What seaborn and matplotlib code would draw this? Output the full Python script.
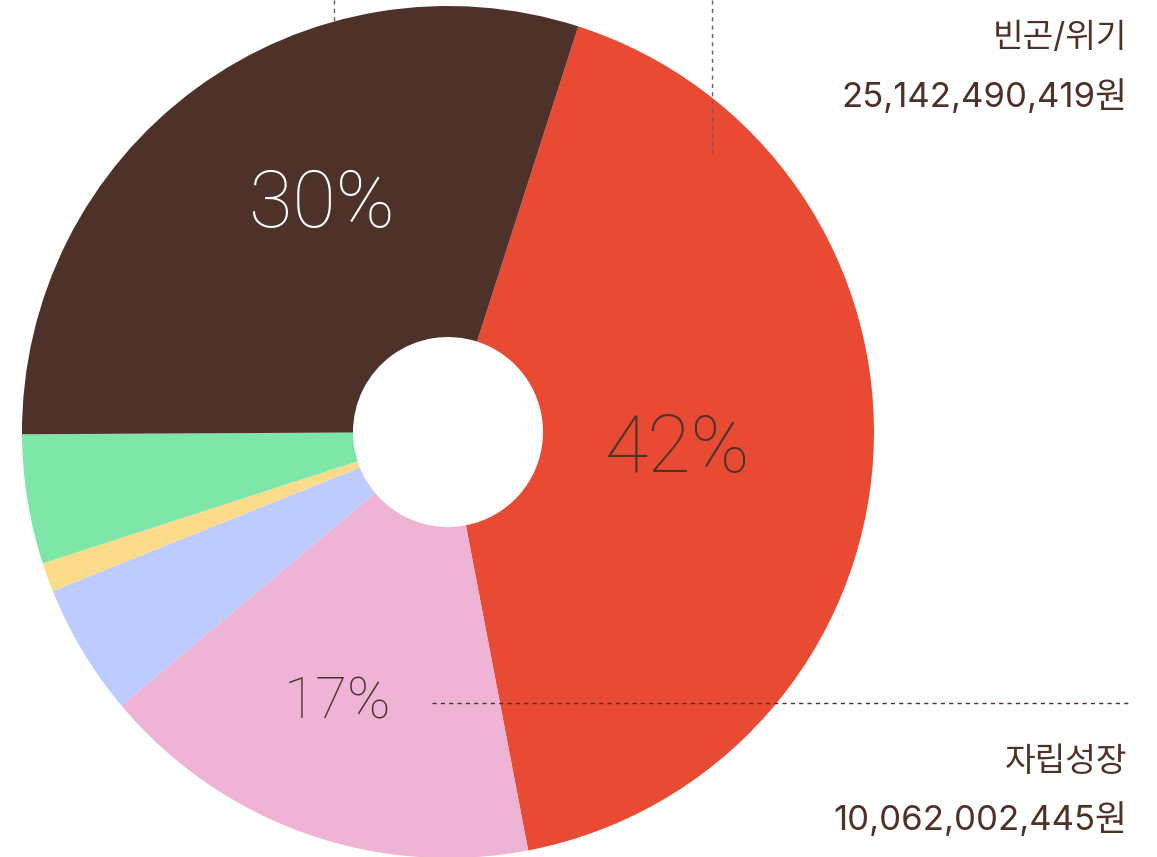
import matplotlib
matplotlib.use("Agg")
import matplotlib.pyplot as plt
import seaborn as sns

# shares (percent)
categories = ["빈곤/위기", "자립성장", "blue", "yellow", "green", "brown"]
shares = [42.0, 16.9, 5.0, 1.1, 4.9, 30.0]
colors = ["#e94a33", "#efb3d6", "#bdcbff", "#fcdc8b", "#7de6a8", "#4e3229"]
pct_labels = ["42%", "17%", "", "", "", "30%"]

label_top = "빈곤/위기"
amount_top = "25,142,490,419원"
label_bottom = "자립성장"
amount_bottom = "10,062,002,445원"

sns.set_style("white")
plt.rcParams['font.family'] = ['Inter', 'Noto Sans CJK KR', 'DejaVu Sans']

W, H = 1157, 857
fig = plt.figure(figsize=(W / 100, H / 100), dpi=100)
ax = fig.add_axes([0, 0, 1, 1])

cx, cy, R = 448, H - 432, 426
hole = 95
palette = sns.color_palette(colors)

line_col = "#7a5a50"
dash = (0, (3, 3))

# dashed leader hidden behind the brown wedge
ax.plot([334, 334], [H, H - 40], color=line_col, lw=1, ls=dash, zorder=0)

ax.pie(shares, colors=palette, startangle=72.2, counterclock=False,
       center=(cx, cy), radius=R,
       wedgeprops=dict(width=R - hole, linewidth=0), frame=True)

# leader lines drawn over the pie
ax.plot([712, 712], [H, H - 153], color=line_col, lw=1, ls=dash, zorder=5)
ax.plot([432, 1130], [H - 703, H - 703], color="#4e3229", lw=1, ls=dash, zorder=5)

pct_font = dict(family=['Roboto', 'DejaVu Sans'], fontweight='light')
ax.text(322, H - 205, pct_labels[5], color="white", fontsize=57,
        ha="center", va="center", zorder=6, **pct_font)
ax.text(678, H - 450, pct_labels[0], color="#4e3229", fontsize=57,
        ha="center", va="center", zorder=6, **pct_font)
ax.text(337, H - 703, pct_labels[1], color="#4e3229", fontsize=42,
        ha="center", va="center", zorder=6, **pct_font)

txt_col = "#4e3229"
ax.text(1127, H - 38, label_top, color=txt_col, fontsize=24, ha="right", va="center")
ax.text(1127, H - 97, amount_top, color=txt_col, fontsize=25, ha="right", va="center")
ax.text(1127, H - 762, label_bottom, color=txt_col, fontsize=24, ha="right", va="center")
ax.text(1127, H - 820, amount_bottom, color=txt_col, fontsize=25, ha="right", va="center")

ax.set_xlim(0, W)
ax.set_ylim(0, H)
ax.set_aspect("equal")
ax.axis("off")

fig.savefig("out.png", dpi=100)
